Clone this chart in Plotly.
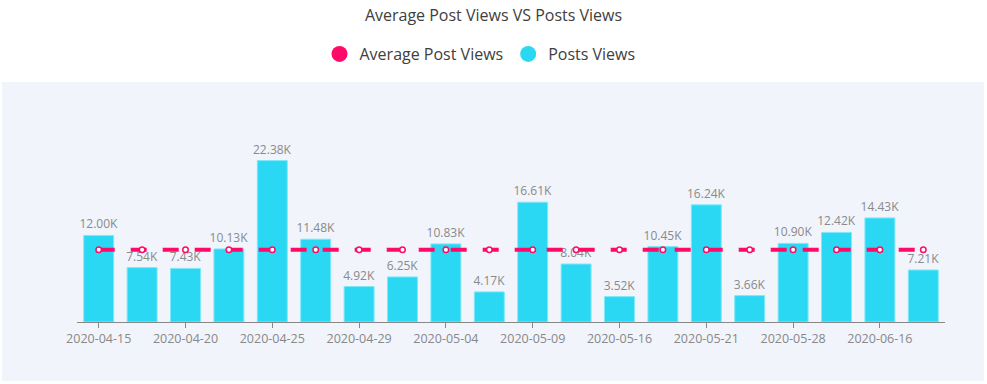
import plotly.graph_objects as go

dates = ["2020-04-15", "2020-04-17", "2020-04-20", "2020-04-22", "2020-04-25",
         "2020-04-27", "2020-04-29", "2020-05-01", "2020-05-04", "2020-05-06",
         "2020-05-09", "2020-05-12", "2020-05-16", "2020-05-18", "2020-05-21",
         "2020-05-25", "2020-05-28", "2020-06-01", "2020-06-16", "2020-06-20"]
post_views = [12000, 7540, 7430, 10130, 22380, 11480, 4920, 6250, 10830, 4170,
              16610, 8040, 3520, 10450, 16240, 3660, 10900, 12420, 14430, 7210]
avg_views = sum(post_views) / len(post_views)
avg_series = [avg_views] * len(dates)
tick_dates = dates[::2]

BAR_COLOR = "#2ad8f4"
LINE_COLOR = "#ff0a68"
FONT = "'Open Sans', Lato, sans-serif"

fig = go.Figure()
fig.add_trace(go.Bar(
    x=dates, y=post_views, name="Posts Views", showlegend=False,
    marker=dict(color=BAR_COLOR, line=dict(color="#7ee8f8", width=1)),
    text=[f"{v/1000:.2f}K" for v in post_views], textposition="outside",
    constraintext="none",
    textfont=dict(color="#8a8a8a", size=12, family=FONT), cliponaxis=False,
))
fig.add_trace(go.Scatter(
    x=dates, y=avg_series, name="Average Post Views", showlegend=False,
    mode="lines+markers",
    line=dict(color=LINE_COLOR, width=4, dash="16px,16px"),
    marker=dict(symbol="circle", size=5.5, color="white", line=dict(color=LINE_COLOR, width=1.5)),
))
# legend entries
fig.add_trace(go.Scatter(x=[None], y=[None], mode="markers", name="Average Post Views",
                         marker=dict(color=LINE_COLOR, size=16)))
fig.add_trace(go.Scatter(x=[None], y=[None], mode="markers", name="Posts Views",
                         marker=dict(color=BAR_COLOR, size=16)))

L, R, T, B = 77, 42, 102, 62
W, H = 987, 384
pw, ph = W - L - R, H - T - B
fig.add_shape(type="rect", xref="paper", yref="paper", layer="below",
              x0=(2 - L) / pw, x1=(984 - L) / pw,
              y0=(H - B - 381) / ph, y1=(H - B - 82) / ph,
              fillcolor="#f1f4fb", line=dict(width=0))

fig.update_layout(
    width=W, height=H,
    margin=dict(l=L, r=R, t=T, b=B),
    paper_bgcolor="white", plot_bgcolor="rgba(0,0,0,0)",
    font=dict(family=FONT, color="#444"),
    title=dict(text="Average Post Views VS Posts Views", x=0.5, xref="container",
               xanchor="center", y=1 - 15 / H, yanchor="middle",
               font=dict(size=16, color="#404040", family=FONT)),
    legend=dict(orientation="h", x=480 / W, xanchor="center", xref="container",
                y=1 - 54 / H, yanchor="middle", yref="container",
                font=dict(size=16, color="#404040", family=FONT),
                itemsizing="trace", bgcolor="rgba(0,0,0,0)"),
    bargap=0.31,
    xaxis=dict(type="category", tickmode="array", tickvals=tick_dates, ticktext=tick_dates,
               range=[-0.5, len(dates) - 0.5],
               showline=True, linecolor="#888", linewidth=1, showgrid=False,
               ticks="outside", ticklen=5, tickcolor="#888", automargin=False,
               tickfont=dict(size=12.5, color="#888", family=FONT)),
    yaxis=dict(range=[0, 30500], visible=False, showgrid=False, automargin=False),
)
fig.write_html("out.html", config={"displayModeBar": False},
               post_script="document.body.style.margin='0';")
